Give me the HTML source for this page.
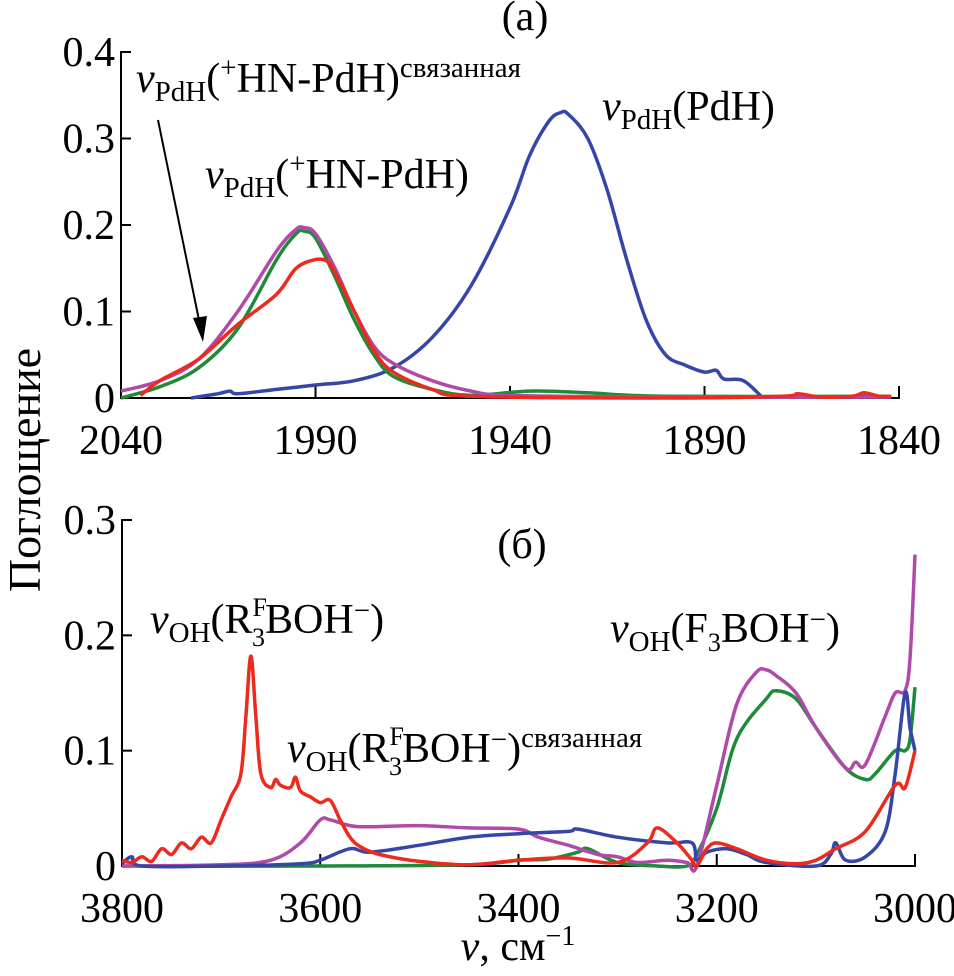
<!DOCTYPE html>
<html><head><meta charset="utf-8">
<style>
body{margin:0;background:#fff;}
svg{display:block;}
text{font-family:"Liberation Serif",serif;}
</style></head>
<body>
<svg id="chart" width="954" height="976" viewBox="0 0 954 976" xmlns="http://www.w3.org/2000/svg">
<g id="pa"></g>
<g id="pb"></g>
<text x="40" y="470" font-size="46" text-anchor="middle" transform="rotate(-90 40 470)">Поглощение</text>
<text x="518" y="960" font-size="42" text-anchor="middle"><tspan font-style="italic">v</tspan>, см<tspan font-size="28" dy="-15">−1</tspan></text>
<text x="525" y="30" font-size="42" text-anchor="middle">(a)</text>
<text x="522" y="558" font-size="42" text-anchor="middle">(б)</text>
<text x="136" y="92" font-size="42"><tspan font-style="italic">v</tspan><tspan font-size="29" dy="9">PdH</tspan><tspan dy="-9">(</tspan><tspan font-size="29" dy="-15">+</tspan><tspan dy="15">HN-PdH)</tspan><tspan font-size="29" dy="-15">связанная</tspan></text>
<text x="205" y="188" font-size="42"><tspan font-style="italic">v</tspan><tspan font-size="29" dy="9">PdH</tspan><tspan dy="-9">(</tspan><tspan font-size="29" dy="-15">+</tspan><tspan dy="15">HN-PdH)</tspan></text>
<text x="602" y="120" font-size="42"><tspan font-style="italic">v</tspan><tspan font-size="29" dy="9">PdH</tspan><tspan dy="-9">(PdH)</tspan></text>
<text x="150" y="633" font-size="42"><tspan font-style="italic">v</tspan><tspan font-size="29" dy="9">OH</tspan><tspan dy="-9">(R</tspan><tspan font-size="26" dy="-17">F</tspan><tspan font-size="26" dx="-15" dy="30">3</tspan><tspan dy="-13">BOH</tspan><tspan font-size="29" dy="-13">−</tspan><tspan dy="13">)</tspan></text>
<text x="287" y="762" font-size="42"><tspan font-style="italic">v</tspan><tspan font-size="29" dy="9">OH</tspan><tspan dy="-9">(R</tspan><tspan font-size="26" dy="-17">F</tspan><tspan font-size="26" dx="-15" dy="30">3</tspan><tspan dy="-13">BOH</tspan><tspan font-size="29" dy="-13">−</tspan><tspan dy="13">)</tspan><tspan font-size="29" dy="-15">связанная</tspan></text>
<text x="610" y="642" font-size="42"><tspan font-style="italic">v</tspan><tspan font-size="29" dy="9">OH</tspan><tspan dy="-9">(F</tspan><tspan font-size="26" dy="9">3</tspan><tspan dy="-9">BOH</tspan><tspan font-size="29" dy="-13">−</tspan><tspan dy="13">)</tspan></text>
<g>
<line x1="158" y1="120" x2="200" y2="325" stroke="#000" stroke-width="2"/>
<polygon points="203,342 193,318 207,316" fill="#000"/>
</g>
</svg>
<script>
// Panel A data
const aCats=[2040,1990,1940,1890,1840];
const aYTicks=[0,0.1,0.2,0.3,0.4];
const aYLabels=["0","0.1","0.2","0.3","0.4"];
const aPurpleX=[2040,2030,2020,2010,2000,1995,1993,1990,1985,1980,1975,1970,1960,1950,1940,1900,1842];
const aPurpleY=[0.008,0.02,0.045,0.1,0.17,0.195,0.197,0.19,0.15,0.1,0.06,0.04,0.02,0.008,0.003,0.001,0.001];
const aGreenX=[2040,2030,2020,2010,2000,1995,1993,1990,1985,1980,1975,1970,1960,1950,1935,1920,1900,1842];
const aGreenY=[0,0.013,0.035,0.08,0.16,0.19,0.193,0.185,0.14,0.09,0.05,0.025,0.01,0.003,0.008,0.006,0.002,0.002];
const aRedX=[2035,2030,2020,2010,2000,1995,1990,1987,1985,1980,1975,1970,1960,1950,1900,1870,1866,1860,1852,1849,1845,1842];
const aRedY=[0.003,0.02,0.045,0.085,0.12,0.15,0.16,0.158,0.145,0.1,0.055,0.03,0.01,0.002,0,0.002,0.005,0.001,0.002,0.006,0.002,0.002];
const aBlueX=[2022,2015,2012,2010,2000,1990,1980,1970,1960,1950,1940,1935,1930,1927,1925,1920,1915,1910,1905,1900,1895,1890,1887,1885,1880,1875];
const aBlueY=[0,0.005,0.008,0.005,0.01,0.015,0.02,0.035,0.07,0.13,0.22,0.28,0.32,0.33,0.328,0.3,0.24,0.16,0.09,0.05,0.038,0.03,0.032,0.022,0.02,0];
// Panel B data
const bCats=[3800,3600,3400,3200,3000];
const bYTicks=[0,0.1,0.2,0.3];
const bYLabels=["0","0.1","0.2","0.3"];
const bRedX=[3800,3790,3780,3770,3760,3750,3740,3730,3720,3710,3700,3690,3680,3675,3670,3665,3660,3650,3645,3640,3630,3625,3620,3610,3600,3590,3580,3570,3560,3540,3500,3450,3400,3350,3300,3270,3260,3240,3225,3220,3210,3200,3180,3150,3120,3100,3080,3050,3020,3010,3000];
const bRedY=[0.005,0.003,0.008,0.004,0.015,0.01,0.02,0.015,0.025,0.02,0.04,0.06,0.08,0.13,0.182,0.13,0.08,0.068,0.075,0.07,0.068,0.077,0.065,0.06,0.055,0.057,0.04,0.025,0.017,0.01,0.004,0.001,0.005,0.007,0.003,0.02,0.033,0.02,0.005,0,0.015,0.02,0.015,0.005,0.002,0.005,0.015,0.03,0.07,0.068,0.1];
const bPurpleX=[3800,3700,3650,3620,3600,3590,3570,3550,3500,3450,3400,3380,3350,3320,3300,3280,3250,3230,3220,3200,3180,3160,3150,3140,3120,3100,3070,3060,3050,3030,3020,3010,3005,3000];
const bPurpleY=[0,0.001,0.005,0.02,0.04,0.04,0.035,0.034,0.035,0.033,0.032,0.025,0.018,0.01,0.008,0.003,0.005,0.003,0,0.07,0.14,0.168,0.17,0.165,0.15,0.12,0.085,0.09,0.088,0.13,0.15,0.152,0.18,0.27];
const bGreenX=[3800,3600,3450,3400,3370,3340,3330,3300,3260,3230,3220,3200,3180,3150,3140,3120,3100,3070,3050,3040,3020,3010,3005,3000];
const bGreenY=[0,0,0.001,0.005,0.006,0.012,0.015,0.003,0,0,0.01,0.05,0.11,0.145,0.152,0.145,0.12,0.085,0.075,0.08,0.1,0.1,0.11,0.155];
const bBlueX=[3800,3790,3780,3700,3620,3600,3570,3550,3500,3450,3400,3350,3340,3300,3250,3225,3220,3210,3190,3170,3150,3100,3085,3080,3070,3050,3030,3020,3010,3005,3000];
const bBlueY=[0.002,0.008,0,0,0.002,0.005,0.015,0.012,0.018,0.025,0.028,0.03,0.032,0.025,0.02,0.02,0.005,0.012,0.015,0.01,0.003,0,0.01,0.02,0.005,0.008,0.03,0.08,0.15,0.12,0.1];

const NS="http://www.w3.org/2000/svg";
function mk(parent,tag,attrs){const e=document.createElementNS(NS,tag);for(const k in attrs)e.setAttribute(k,attrs[k]);parent.appendChild(e);return e;}
function smooth(pts){
  let d='M'+pts[0][0].toFixed(1)+','+pts[0][1].toFixed(1);
  for(let i=0;i<pts.length-1;i++){
    const p0=pts[i-1]||pts[i],p1=pts[i],p2=pts[i+1],p3=pts[i+2]||p2;
    const c1x=p1[0]+(p2[0]-p0[0])/6,c1y=p1[1]+(p2[1]-p0[1])/6;
    const c2x=p2[0]-(p3[0]-p1[0])/6,c2y=p2[1]-(p3[1]-p1[1])/6;
    d+=`C${c1x.toFixed(1)},${c1y.toFixed(1)} ${c2x.toFixed(1)},${c2y.toFixed(1)} ${p2[0].toFixed(1)},${p2[1].toFixed(1)}`;
  }
  return d;
}
function panel(g,cfg){
  const sx=v=>cfg.x0+(cfg.xa-v)/(cfg.xa-cfg.xb)*(cfg.x1-cfg.x0);
  const sy=v=>cfg.y0-v/cfg.ymax*(cfg.y0-cfg.y1);
  const ax=mk(g,'path',{d:`M${cfg.x0+10},${cfg.y1} H${cfg.x0} V${cfg.y0} H${cfg.x1} V${cfg.y0-12}`,fill:'none',stroke:'#000','stroke-width':2});
  
  
  cfg.yt.forEach((t,i)=>{
    const y=sy(t);
    const tk=mk(g,'line',{x1:cfg.x0,x2:cfg.x0+10,y1:y,y2:y,stroke:'#000','stroke-width':2});
    
    
    const tx=mk(g,'text',{x:cfg.x0-6,y:y+14,'font-size':42,'text-anchor':'end'});
    tx.textContent=cfg.yl[i];
    
    
  });
  cfg.cats.forEach((c,i)=>{
    const x=sx(c);
    if(i>0&&i<cfg.cats.length-1){
      const tk=mk(g,'line',{x1:x,x2:x,y1:cfg.y0,y2:cfg.y0-12,stroke:'#000','stroke-width':2});
      
      
    }
    const tx=mk(g,'text',{x:x,y:cfg.y0+56,'font-size':42,'text-anchor':'middle'});
    tx.textContent=c;
    
    
  });
  cfg.series.forEach(s=>{
    const pts=s.x.map((v,i)=>[sx(v),sy(s.y[i])]);
    const p=mk(g,'path',{d:smooth(pts),fill:'none',stroke:s.c,'stroke-width':3.5,'stroke-linejoin':'round'});
    
    
  });
}
panel(document.getElementById('pa'),{x0:121,x1:899,xa:2040,xb:1840,y0:398,y1:52,ymax:0.4,cats:aCats,yt:aYTicks,yl:aYLabels,
 series:[{x:aBlueX,y:aBlueY,c:'#3447a8',n:'series-blue'},{x:aGreenX,y:aGreenY,c:'#1e8a3a',n:'series-green'},{x:aPurpleX,y:aPurpleY,c:'#b04aa8',n:'series-purple'},{x:aRedX,y:aRedY,c:'#ee2a1e',n:'series-red'}]});
panel(document.getElementById('pb'),{x0:122,x1:915,xa:3800,xb:3000,y0:866,y1:520,ymax:0.3,cats:bCats,yt:bYTicks,yl:bYLabels,
 series:[{x:bGreenX,y:bGreenY,c:'#1e8a3a',n:'series-green'},{x:bPurpleX,y:bPurpleY,c:'#b04aa8',n:'series-purple'},{x:bBlueX,y:bBlueY,c:'#3447a8',n:'series-blue'},{x:bRedX,y:bRedY,c:'#ee2a1e',n:'series-red'}]});
</script>
</body></html>
